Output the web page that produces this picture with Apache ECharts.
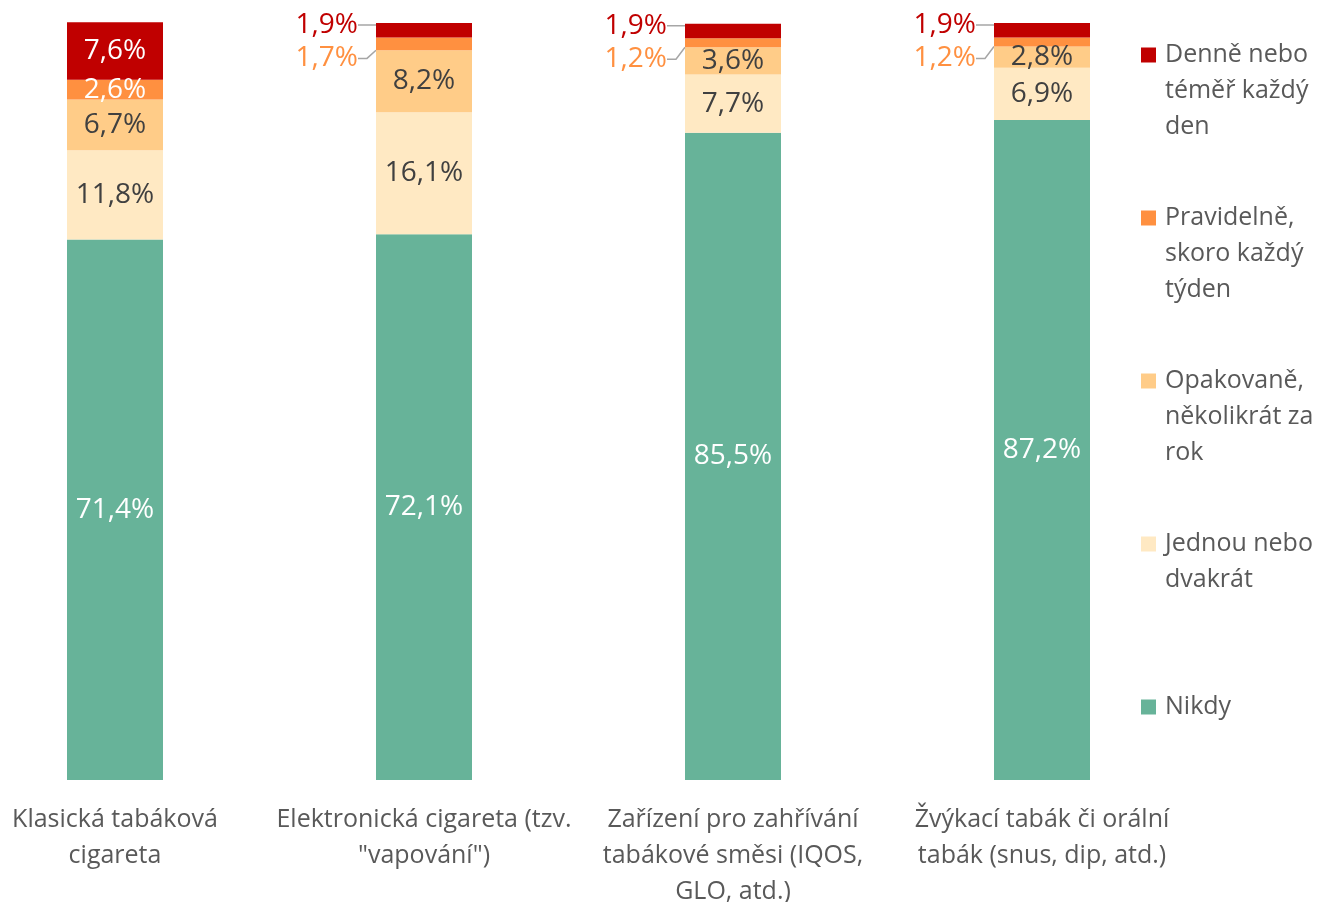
<!DOCTYPE html>
<html>
<head>
<meta charset="utf-8">
<script src="https://cdn.jsdelivr.net/npm/echarts@6/dist/echarts.min.js"></script>
<style>
html,body{margin:0;padding:0;background:#fff;}
#chart{width:1320px;height:902px;}
</style>
</head>
<body>
<div id="chart"></div>
<script>
var categories = [
  'Klasická tabáková\ncigareta',
  'Elektronická cigareta (tzv.\n"vapování")',
  'Zařízení pro zahřívání\ntabákové směsi (IQOS,\nGLO, atd.)',
  'Žvýkací tabák či orální\ntabák (snus, dip, atd.)'
];
var seriesNames = [
  'Nikdy',
  'Jednou nebo\ndvakrát',
  'Opakovaně,\nněkolikrát za\nrok',
  'Pravidelně,\nskoro každý\ntýden',
  'Denně nebo\ntéměř každý\nden'
];
var nikdy      = [71.4, 72.1, 85.5, 87.2];
var jednou     = [11.8, 16.1, 7.7, 6.9];
var opakovane  = [6.7, 8.2, 3.6, 2.8];
var pravidelne = [2.6, 1.7, 1.2, 1.2];
var denne      = [7.6, 1.9, 1.9, 1.9];

var values = [nikdy, jednou, opakovane, pravidelne, denne];
var colors = ['#67B399', '#FFE9C3', '#FFCC88', '#FF9040', '#C00000'];
var insideLabelColors = ['#ffffff', '#404040', '#404040', '#ffffff', '#ffffff'];
var outsideLabelColors = [null, null, null, '#FF9040', '#C00000'];

function fmt(v) { return v.toFixed(1).replace('.', ',') + '%'; }

var series = values.map(function (arr, si) {
  return {
    name: seriesNames[si],
    type: 'bar',
    stack: 'total',
    barWidth: 96,
    clip: false,
    itemStyle: { color: colors[si] },
    data: arr.map(function (v) {
      var outside = v < 2;
      return {
        value: v,
        label: {
          color: outside ? outsideLabelColors[si] : insideLabelColors[si]
        },
        labelLine: { show: outside }
      };
    }),
    label: {
      show: true,
      position: 'inside',
      offset: [0, 2],
      fontFamily: 'Open Sans',
      fontSize: 28,
      formatter: function (p) { return fmt(p.value); }
    },
    labelLine: {
      show: false,
      length2: 9,
      lineStyle: { color: '#A6A6A6', width: 1.5 }
    },
    labelLayout: function (p) {
      var v = values[p.seriesIndex][p.dataIndex];
      if (v >= 2) return {};
      var r = p.rect;
      if (p.seriesIndex === 4) {
        return { x: r.x - 18, y: r.y + 2, align: 'right', verticalAlign: 'middle' };
      }
      return { x: r.x - 18, y: r.y + 21, align: 'right', verticalAlign: 'middle' };
    }
  };
});

var legendTops = [-35, 128, 291, 490, 689];
var legendOrder = [4, 3, 2, 1, 0];
var legends = legendOrder.map(function (si, k) {
  var n = seriesNames[si].split('\n').length;
  var lead = new Array(n).join('\n');
  return {
    data: [seriesNames[si]],
    orient: 'vertical',
    left: 1141,
    top: legendTops[k],
    padding: 0,
    itemWidth: 15,
    itemHeight: 15,
    icon: 'rect',
    selectedMode: false,
    formatter: function (name) { return lead + name; },
    textStyle: {
      fontFamily: 'Open Sans',
      fontSize: 25,
      lineHeight: 36,
      color: '#595959',
      padding: [0, 0, 0, 4]
    }
  };
});

var chart = echarts.init(document.getElementById('chart'), null, { renderer: 'canvas' });
chart.setOption({
  animation: false,
  backgroundColor: '#ffffff',
  grid: { left: 115, right: 278, top: 23, bottom: 122, containLabel: false, outerBoundsMode: 'none' },
  legend: legends,
  xAxis: {
    type: 'category',
    data: categories,
    boundaryGap: false,
    axisLine: { show: false },
    axisTick: { show: false },
    splitLine: { show: false },
    axisLabel: {
      interval: 0,
      margin: 22,
      fontFamily: 'Open Sans',
      fontSize: 25,
      lineHeight: 36,
      color: '#595959'
    }
  },
  yAxis: {
    type: 'value',
    min: 0,
    max: 100,
    show: false,
    splitLine: { show: false }
  },
  series: series
});
</script>
</body>
</html>
